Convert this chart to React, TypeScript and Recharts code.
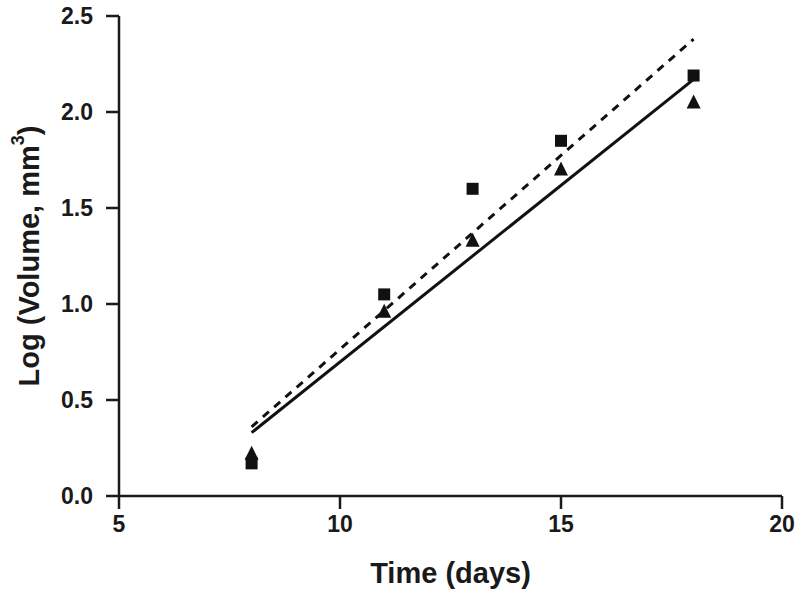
import React from "react";
import {
  ScatterChart,
  Scatter,
  XAxis,
  YAxis,
} from "recharts";

const days = [8, 11, 13, 15, 18];
const squareVals = [0.17, 1.05, 1.6, 1.85, 2.19];
const triangleVals = [0.22, 0.96, 1.33, 1.7, 2.05];

const fitDays = [8, 18];
const dashedFit = [0.36, 2.38];
const solidFit = [0.33, 2.17];

const xTicks = [5, 10, 15, 20];
const yTicks = [0, 0.5, 1, 1.5, 2, 2.5];

const toPoints = (xs: number[], ys: number[]) => xs.map((x, i) => ({ x, y: ys[i] }));

const squares = toPoints(days, squareVals);
const triangles = toPoints(days, triangleVals);
const dashed = toPoints(fitDays, dashedFit);
const solid = toPoints(fitDays, solidFit);

const font = "'Liberation Sans Narrow', 'Liberation Sans', Arial, sans-serif";
const ink = "#1a1a1a";

const YTitle = ({ viewBox }: any) => {
  const cy = viewBox.y + viewBox.height / 2;
  const cx = 29;
  return (
    <text
      x={cx}
      y={cy}
      transform={`rotate(-90, ${cx}, ${cy})`}
      textAnchor="middle"
      dominantBaseline="central"
      fontFamily={font}
      fontWeight="bold"
      fontSize={29}
      fill={ink}
    >
      Log (Volume, mm
      <tspan fontSize={18} dy={-11}>3</tspan>
      <tspan dy={11}>)</tspan>
    </text>
  );
};

const XTick = ({ x, y, payload }: any) => (
  <text x={x} y={y + 18} textAnchor="middle" fontFamily={font} fontWeight="bold" fontSize={23} fill={ink}>
    {payload.value}
  </text>
);

const YTick = ({ x, y, payload }: any) => (
  <text x={x - 2} y={y + 8} textAnchor="end" fontFamily={font} fontWeight="bold" fontSize={23} fill={ink}>
    {Number(payload.value).toFixed(1)}
  </text>
);

const Square = ({ cx, cy }: any) => <rect x={cx - 6} y={cy - 6} width={12} height={12} fill="#111" />;

const Triangle = ({ cx, cy }: any) => (
  <polygon points={`${cx},${cy - 8} ${cx + 7},${cy + 6} ${cx - 7},${cy + 6}`} fill="#111" />
);

const noDot = () => null;

export default function App() {
  const tickLine = { stroke: ink, strokeWidth: 2.5 };
  return (
    <div style={{ position: "absolute", left: 0, top: 0 }}>
      <ScatterChart width={800} height={591} margin={{ top: 16, right: 18, bottom: 0, left: 0 }}>
        <XAxis
          type="number"
          dataKey="x"
          domain={[5, 20]}
          ticks={xTicks}
          height={95}
          tickSize={13}
          tickMargin={5}
          tick={<XTick />}
          tickLine={tickLine}
          axisLine={{ stroke: ink, strokeWidth: 2.5 }}
          label={{
            value: "Time (days)",
            position: "insideBottom",
            offset: 8,
            style: { fontFamily: font, fontWeight: "bold", fontSize: 29, fill: ink },
          }}
        />
        <YAxis
          type="number"
          dataKey="y"
          domain={[0, 2.5]}
          ticks={yTicks}
          width={119}
          tickSize={13}
          tickMargin={11}
          tick={<YTick />}
          tickLine={tickLine}
          axisLine={{ stroke: ink, strokeWidth: 2.5 }}
          label={<YTitle />}
        />
        <Scatter
          data={dashed}
          line={{ stroke: "#111", strokeWidth: 3, strokeDasharray: "8 7" }}
          shape={noDot}
          isAnimationActive={false}
        />
        <Scatter
          data={solid}
          line={{ stroke: "#111", strokeWidth: 3 }}
          shape={noDot}
          isAnimationActive={false}
        />
        <Scatter data={squares} shape={<Square />} isAnimationActive={false} />
        <Scatter data={triangles} shape={<Triangle />} isAnimationActive={false} />
      </ScatterChart>
    </div>
  );
}
